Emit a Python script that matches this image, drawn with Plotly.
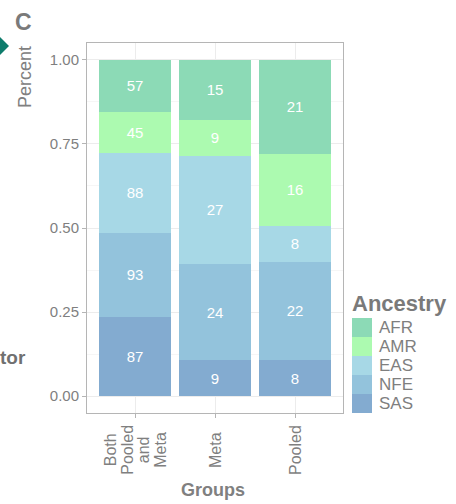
import plotly.graph_objects as go

# Ancestry counts per analysis group
groups = ["Both Pooled and Meta", "Meta", "Pooled"]
group_label_lines = [["Both", "Pooled", "and", "Meta"], ["Meta"], ["Pooled"]]
ancestries = ["AFR", "AMR", "EAS", "NFE", "SAS"]
counts = {
    "AFR": [57, 15, 21],
    "AMR": [45, 9, 16],
    "EAS": [88, 27, 8],
    "NFE": [93, 24, 22],
    "SAS": [87, 9, 8],
}
colors = {
    "AFR": "#8cdab6",
    "AMR": "#acfab0",
    "EAS": "#a7d8e6",
    "NFE": "#93c3dc",
    "SAS": "#83abd0",
}
y_ticks = [0, 0.25, 0.5, 0.75, 1.0]
y_tick_text = ["0.00", "0.25", "0.50", "0.75", "1.00"]

W, H = 456, 504
L, R, T, B = 87, 113, 43, 91
PW, PH = W - L - R, H - T - B

def px(x):
    return (x - L) / PW

def py(y):
    return (H - B - y) / PH

FONT = "Liberation Sans, Arial, sans-serif"
GREY = "#808080"

fig = go.Figure()
# stacked from the bottom: SAS first, AFR on top
for anc in reversed(ancestries):
    fig.add_trace(go.Bar(
        x=groups, y=counts[anc], name=anc,
        marker=dict(color=colors[anc], line=dict(width=0)),
        text=[str(v) for v in counts[anc]],
        textposition="inside", insidetextanchor="middle",
        textfont=dict(color="white", size=15, family=FONT),
        constraintext="none", width=0.9, showlegend=False,
    ))

fig.update_layout(
    width=W, height=H, margin=dict(l=L, r=R, t=T, b=B),
    barmode="stack", barnorm="fraction",
    paper_bgcolor="white", plot_bgcolor="white",
    font=dict(family=FONT, color=GREY),
    xaxis=dict(
        range=[-0.6, 2.6], showgrid=True, gridcolor="#ececec", gridwidth=1,
        showline=True, linecolor="#b5b5b5", linewidth=1, mirror=True,
        ticks="outside", ticklen=4, tickcolor="#b5b5b5",
        showticklabels=False, zeroline=False,
    ),
    yaxis=dict(
        range=[-0.05, 1.05], tickvals=y_ticks, ticktext=y_tick_text,
        showgrid=True, gridcolor="#ececec", gridwidth=1,
        minor=dict(dtick=0.125, tick0=0.125, showgrid=True, gridcolor="#f6f6f6", gridwidth=1),
        showline=True, linecolor="#b5b5b5", linewidth=1, mirror=True,
        ticks="outside", ticklen=4, tickcolor="#b5b5b5",
        tickfont=dict(size=15, color="#7f7f7f"), zeroline=False,
    ),
)

annotations = []
# rotated group labels below the axis, one annotation per line for tight spacing
LINE_GAP = 16.5
for g, lines in zip(groups, group_label_lines):
    n = len(lines)
    for i, line in enumerate(lines):
        annotations.append(dict(
            x=g, xref="x", y=py(450), yref="paper", text=line, textangle=-90,
            xshift=(i - (n - 1) / 2) * LINE_GAP,
            showarrow=False, xanchor="center", yanchor="middle",
            font=dict(size=16, color="#7f7f7f"),
        ))

# axis titles
annotations.append(dict(x=px(213), y=py(490), xref="paper", yref="paper",
                        text="<b>Groups</b>", showarrow=False,
                        xanchor="center", yanchor="middle",
                        font=dict(size=18, color=GREY)))
annotations.append(dict(x=px(25), y=py(77), xref="paper", yref="paper",
                        text="Percent", textangle=-90, showarrow=False,
                        xanchor="center", yanchor="middle",
                        font=dict(size=18, color=GREY)))

# panel letter and neighbouring-panel fragments
annotations.append(dict(x=px(23), y=py(22), xref="paper", yref="paper",
                        text="<b>C</b>", showarrow=False,
                        xanchor="center", yanchor="middle",
                        font=dict(size=23, color="#7a7a7a")))
annotations.append(dict(x=px(-2), y=py(357), xref="paper", yref="paper",
                        text="<b>tor</b>", showarrow=False,
                        xanchor="left", yanchor="middle",
                        font=dict(size=19, color="#707070")))

shapes = [dict(type="path", xref="paper", yref="paper",
               path=f"M {px(0)} {py(37)} L {px(9)} {py(46)} L {px(0)} {py(55)} Z",
               fillcolor="#0e7c6c", line=dict(width=0))]

# legend
annotations.append(dict(x=px(350), y=py(303), xref="paper", yref="paper",
                        text="<b>Ancestry</b>", showarrow=False,
                        xanchor="left", yanchor="middle",
                        font=dict(size=22, color="#7a7a7a")))
top = 318
step = 19
for i, anc in enumerate(ancestries):
    y0 = top + i * step
    shapes.append(dict(type="rect", xref="paper", yref="paper",
                       x0=px(352), x1=px(372), y0=py(y0 + step), y1=py(y0),
                       fillcolor=colors[anc], line=dict(width=0)))
    annotations.append(dict(x=px(377), y=py(y0 + step / 2), xref="paper", yref="paper",
                            text=anc, showarrow=False, xanchor="left", yanchor="middle",
                            font=dict(size=17, color="#7f7f7f")))

fig.update_layout(annotations=annotations, shapes=shapes)
fig.write_html("out.html")
